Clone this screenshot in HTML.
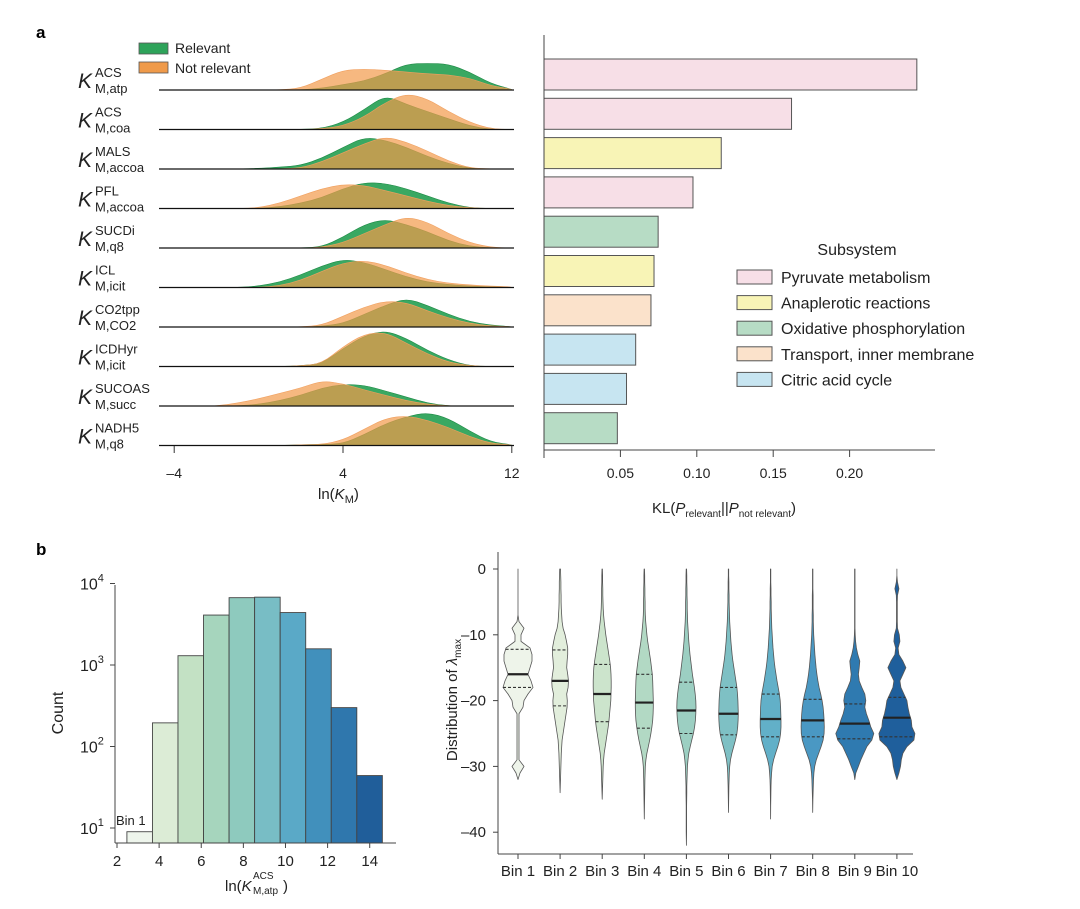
<!DOCTYPE html>
<html><head><meta charset="utf-8"><style>
html,body{margin:0;padding:0;background:#fff;}
svg{display:block;font-family:"Liberation Sans",sans-serif;}
</style></head><body>
<svg id="fig" width="1080" height="909" viewBox="0 0 1080 909" xmlns="http://www.w3.org/2000/svg">
<text x="36" y="38" font-size="17" font-weight="bold">a</text>
<text x="36" y="555" font-size="17" font-weight="bold">b</text>
<g id="ridge"></g>
<g id="bars"></g>
<g id="hist"></g>
<g id="viol"></g>
</svg>
<script>
// ---------- Ridge data (density heights on grid v=-4..12) ----------
const ridgeGrid = [-4,-3,-2,-1,0,1,2,3,4,5,6,7,8,9,10,11,12];
const ridgeSup = ["ACS","ACS","MALS","PFL","SUCDi","ICL","CO2tpp","ICDHyr","SUCOAS","NADH5"];
const ridgeSub = ["M,atp","M,coa","M,accoa","M,accoa","M,q8","M,icit","M,CO2","M,icit","M,succ","M,q8"];
const relevant = [
 [0,0,0,0,0,0,0,0.05,0.15,0.25,0.45,0.72,0.74,0.72,0.5,0.18,0.02],
 [0,0,0,0,0,0,0,0.03,0.2,0.55,0.95,0.7,0.5,0.3,0.1,0,0],
 [0,0,0,0,0.02,0.05,0.1,0.3,0.6,0.88,0.8,0.6,0.35,0.15,0.02,0,0],
 [0,0,0,0,0,0.05,0.15,0.3,0.55,0.72,0.7,0.55,0.35,0.15,0.02,0,0],
 [0,0,0,0,0,0,0,0.03,0.3,0.65,0.8,0.65,0.45,0.2,0.05,0,0],
 [0,0,0,0,0.04,0.15,0.35,0.6,0.78,0.7,0.5,0.3,0.15,0.08,0.04,0.02,0.01],
 [0,0,0,0,0,0,0,0.02,0.1,0.35,0.6,0.8,0.6,0.35,0.15,0.05,0.01],
 [0,0,0,0,0,0,0.02,0.08,0.5,0.85,1.0,0.78,0.45,0.18,0.02,0,0],
 [0,0,0,0,0.05,0.15,0.3,0.5,0.6,0.58,0.42,0.25,0.08,0,0,0,0],
 [0,0,0,0,0,0,0.02,0.03,0.05,0.3,0.6,0.8,0.92,0.75,0.4,0.1,0.02]
];
const notRelevant = [
 [0,0,0,0,0,0,0.05,0.3,0.55,0.58,0.55,0.5,0.45,0.42,0.33,0.12,0.02],
 [0,0,0,0,0,0,0,0.02,0.1,0.35,0.75,1.0,0.85,0.5,0.2,0.02,0],
 [0,0,0,0,0,0,0.03,0.2,0.45,0.7,0.9,0.75,0.5,0.22,0.03,0,0],
 [0,0,0,0,0.02,0.15,0.35,0.55,0.67,0.64,0.5,0.35,0.2,0.08,0.02,0,0],
 [0,0,0,0,0,0,0,0.02,0.15,0.4,0.65,0.87,0.72,0.4,0.15,0.02,0],
 [0,0,0,0,0,0.05,0.2,0.45,0.68,0.75,0.62,0.4,0.22,0.12,0.07,0.04,0.02],
 [0,0,0,0,0,0,0,0.05,0.3,0.55,0.72,0.68,0.45,0.25,0.1,0.03,0.01],
 [0,0,0,0,0,0,0.02,0.08,0.55,0.9,0.95,0.65,0.35,0.12,0.02,0,0],
 [0,0,0,0.08,0.2,0.35,0.5,0.7,0.62,0.45,0.3,0.15,0.05,0,0,0,0],
 [0,0,0,0,0,0,0.02,0.03,0.15,0.45,0.75,0.83,0.7,0.5,0.25,0.06,0.02]
];
const ridgeTicks = [-4,4,12];

// ---------- KL bar data ----------
const klValues = [0.244,0.162,0.116,0.0975,0.0747,0.072,0.070,0.060,0.054,0.048];
const klSubsystem = [0,0,1,0,2,1,3,4,4,2];
const subsystemNames = ["Pyruvate metabolism","Anaplerotic reactions","Oxidative phosphorylation","Transport, inner membrane","Citric acid cycle"];
const klTicks = [0.05,0.10,0.15,0.20];

// ---------- Histogram data ----------
const histEdgeStart = 2.47, histBinWidth = 1.213;
const histCounts = [9,195,1300,4100,6700,6800,4400,1580,300,44];
const histXTicks = [2,4,6,8,10,12,14];
const histYTicks = [1,2,3,4];

// ---------- Violin data (density on grid value=0..-42, step -1) ----------
const binLabels = ["Bin 1","Bin 2","Bin 3","Bin 4","Bin 5","Bin 6","Bin 7","Bin 8","Bin 9","Bin 10"];
const violinDensity = [
 [0,0,0,0,0,0,0,0,0.05,0.3,0.15,0.15,0.6,0.7,0.7,0.6,0.5,0.65,0.75,0.5,0.3,0.25,0.05,0.05,0.05,0.05,0.05,0.05,0.05,0.05,0.3,0.1,0],
 [0.02,0.03,0.04,0.04,0.05,0.05,0.06,0.08,0.1,0.15,0.25,0.32,0.38,0.38,0.35,0.33,0.38,0.42,0.4,0.33,0.36,0.35,0.3,0.25,0.2,0.15,0.1,0.08,0.06,0.05,0.04,0.03,0.02,0.01,0],
 [0.01,0.02,0.02,0.03,0.03,0.04,0.05,0.07,0.1,0.14,0.18,0.23,0.28,0.33,0.38,0.42,0.44,0.45,0.45,0.44,0.43,0.4,0.37,0.34,0.3,0.25,0.2,0.15,0.1,0.07,0.05,0.04,0.03,0.02,0.01,0],
 [0.01,0.02,0.02,0.03,0.03,0.04,0.04,0.05,0.07,0.1,0.13,0.17,0.22,0.27,0.32,0.36,0.4,0.42,0.43,0.44,0.45,0.45,0.44,0.42,0.38,0.33,0.27,0.2,0.13,0.08,0.05,0.04,0.03,0.025,0.02,0.015,0.01,0.005,0],
 [0.01,0.02,0.02,0.03,0.03,0.04,0.04,0.05,0.06,0.08,0.1,0.12,0.15,0.18,0.22,0.26,0.3,0.35,0.4,0.44,0.47,0.48,0.47,0.45,0.41,0.35,0.27,0.19,0.12,0.08,0.05,0.04,0.03,0.02,0.02,0.015,0.01,0.01,0.01,0.01,0.01,0.005,0],
 [0.01,0.01,0.02,0.02,0.03,0.03,0.04,0.05,0.06,0.08,0.1,0.12,0.15,0.18,0.22,0.27,0.32,0.37,0.42,0.45,0.47,0.48,0.49,0.48,0.46,0.42,0.35,0.26,0.17,0.1,0.06,0.04,0.03,0.02,0.015,0.01,0.005,0],
 [0.01,0.01,0.01,0.02,0.02,0.03,0.03,0.04,0.05,0.06,0.08,0.1,0.12,0.15,0.18,0.22,0.27,0.32,0.38,0.44,0.48,0.5,0.51,0.52,0.52,0.5,0.45,0.36,0.25,0.15,0.08,0.05,0.03,0.02,0.015,0.01,0.005,0.003,0],
 [0.01,0.01,0.01,0.01,0.02,0.02,0.02,0.03,0.03,0.04,0.05,0.07,0.09,0.11,0.14,0.17,0.21,0.26,0.32,0.4,0.47,0.52,0.55,0.57,0.58,0.57,0.52,0.42,0.3,0.18,0.1,0.06,0.04,0.03,0.02,0.01,0.005,0],
 [0.01,0.01,0.01,0.01,0.01,0.01,0.01,0.01,0.01,0.01,0.02,0.04,0.08,0.15,0.25,0.22,0.18,0.22,0.35,0.5,0.55,0.5,0.58,0.7,0.8,0.95,0.85,0.6,0.45,0.3,0.18,0.05,0],
 [0,0,0.03,0.1,0.03,0.02,0.02,0.02,0.02,0.03,0.12,0.15,0.06,0.1,0.3,0.45,0.3,0.15,0.2,0.35,0.5,0.55,0.62,0.72,0.75,0.9,0.85,0.5,0.3,0.22,0.18,0.1,0]
];
const violinMedian = [-16,-17,-19,-20.3,-21.5,-22,-22.8,-23,-23.5,-22.6];
const violinQ1 = [-18,-20.8,-23.2,-24.2,-25,-25.2,-25.5,-25.5,-25.8,-25.5];
const violinQ3 = [-12.2,-12.3,-14.5,-16,-17.2,-18,-19,-19.8,-20.5,-19.5];
const violinYTicks = [0,-10,-20,-30,-40];

// ---------- helpers ----------
const NS="http://www.w3.org/2000/svg";
function mk(parent,tag,attrs,txt){const e=document.createElementNS(NS,tag);for(const k in attrs)e.setAttribute(k,attrs[k]);if(txt!==undefined)e.textContent=txt;parent.appendChild(e);return e;}
function smoothPath(pts){let d="M"+pts[0][0]+","+pts[0][1];for(let i=1;i<pts.length-1;i++){const mx=(pts[i][0]+pts[i+1][0])/2,my=(pts[i][1]+pts[i+1][1])/2;d+=" Q"+pts[i][0]+","+pts[i][1]+" "+mx+","+my;}const l=pts[pts.length-1];d+=" L"+l[0]+","+l[1];return d;}

// ---------- Ridge plot ----------
(function(){
const g=document.getElementById('ridge');
const xK=v=>343+(v-4)*21.1;
const base=r=>90+r*39.5;
const H=36;
let s=mk(g,'rect',{x:139,y:43,width:29,height:11,fill:'#2ea35a',stroke:'#555','stroke-width':0.8});

s=mk(g,'text',{x:175,y:53,'font-size':14,fill:'#222'},'Relevant');

s=mk(g,'rect',{x:139,y:62,width:29,height:11,fill:'#ef9a4a',stroke:'#555','stroke-width':0.8});

s=mk(g,'text',{x:175,y:73,'font-size':14,fill:'#222'},'Not relevant');

for(let r=0;r<relevant.length;r++){
  const b=base(r);
  const mkPts=arr=>{const p=[[xK(ridgeGrid[0]),b]];arr.forEach((h,i)=>p.push([xK(ridgeGrid[i]),b-h*H]));p.push([xK(ridgeGrid[ridgeGrid.length-1]),b]);return p;};
  let p=mk(g,'path',{d:smoothPath(mkPts(relevant[r]))+" Z",fill:'#2ea35a','fill-opacity':0.95,stroke:'#1d8a45','stroke-width':0.6});
  
  p=mk(g,'path',{d:smoothPath(mkPts(notRelevant[r]))+" Z",fill:'#f29a4a','fill-opacity':0.7,stroke:'#f0a060','stroke-width':0.6});
  
  p=mk(g,'line',{x1:159,y1:b,x2:514,y2:b,stroke:'#111','stroke-width':1.3});
  
  const t=mk(g,'text',{x:78,y:b-2,'font-size':21,fill:'#222'});
  
  mk(t,'tspan',{'font-style':'italic'},'K');
  mk(g,'text',{x:95,y:b-13,'font-size':13,fill:'#222'},ridgeSup[r]);
  mk(g,'text',{x:95,y:b+3,'font-size':13,fill:'#222'},ridgeSub[r]);
}
ridgeTicks.forEach(v=>{
  const tk=mk(g,'line',{x1:xK(v),y1:446,x2:xK(v),y2:453,stroke:'#333','stroke-width':1});
  
  const tl=mk(g,'text',{x:xK(v),y:478,'font-size':14,'text-anchor':'middle',fill:'#222'},v<0?'\u2013'+(-v):String(v));
  
});
const xl=mk(g,'text',{x:318,y:499,'font-size':15,fill:'#222'});

mk(xl,'tspan',{},'ln(');mk(xl,'tspan',{'font-style':'italic'},'K');mk(xl,'tspan',{'font-size':11,dy:4},'M');mk(xl,'tspan',{dy:-4},')');
})();

// ---------- KL bars ----------
(function(){
const g=document.getElementById('bars');
const colors=['#f7dfe7','#f8f4b6','#b7dcc5','#fbe2cb','#c7e5f1'];
const xS=v=>544+v*1528;
const top=r=>59+r*39.3;
klValues.forEach((v,r)=>{
  const b=mk(g,'rect',{x:544,y:top(r),width:xS(v)-544,height:31,fill:colors[klSubsystem[r]],stroke:'#555','stroke-width':1});
  
});
let a=mk(g,'line',{x1:544,y1:35,x2:544,y2:450,stroke:'#444','stroke-width':1});

a=mk(g,'line',{x1:544,y1:450,x2:935,y2:450,stroke:'#444','stroke-width':1});

mk(g,'line',{x1:544,y1:450,x2:544,y2:458,stroke:'#444'});
klTicks.forEach(v=>{
  const tk=mk(g,'line',{x1:xS(v),y1:450,x2:xS(v),y2:457,stroke:'#444'});
  
  const tl=mk(g,'text',{x:xS(v),y:478,'font-size':14,'text-anchor':'middle',fill:'#222'},v.toFixed(2));
  
});
const xl=mk(g,'text',{x:652,y:513,'font-size':15,fill:'#222'});

mk(xl,'tspan',{},'KL(');mk(xl,'tspan',{'font-style':'italic'},'P');mk(xl,'tspan',{'font-size':10,dy:4},'relevant');mk(xl,'tspan',{dy:-4},'||');mk(xl,'tspan',{'font-style':'italic'},'P');mk(xl,'tspan',{'font-size':10,dy:4},'not relevant');mk(xl,'tspan',{dy:-4},')');
const lt=mk(g,'text',{x:857,y:255,'font-size':16,'text-anchor':'middle',fill:'#222'},'Subsystem');

subsystemNames.forEach((n,i)=>{
  const y=277+i*25.6;
  const sw=mk(g,'rect',{x:737,y:y-7,width:35,height:14,fill:colors[i],stroke:'#555','stroke-width':1});
  
  const tx=mk(g,'text',{x:781,y:y+6,'font-size':16,fill:'#222'},n);
  
});
})();

// ---------- Histogram ----------
(function(){
const g=document.getElementById('hist');
const colors=['#eef5ec','#dcecd6','#c3e1c4','#a6d5bd','#8ecabe','#78bdc5','#5aa9c7','#4190bc','#2f77ad','#205e9a'];
const xS=v=>117+(v-2)*21.06;
const yS=c=>828-(Math.log10(c)-1)*81.5;
const y0=843;
histCounts.forEach((c,i)=>{
  const x0=xS(histEdgeStart+i*histBinWidth),x1=xS(histEdgeStart+(i+1)*histBinWidth);
  const b=mk(g,'rect',{x:x0,y:yS(c),width:x1-x0,height:y0-yS(c),fill:colors[i],stroke:'#444','stroke-width':0.9});
  
});
let a=mk(g,'line',{x1:115,y1:585,x2:115,y2:843,stroke:'#444'});

a=mk(g,'line',{x1:115,y1:843,x2:396,y2:843,stroke:'#444'});

histYTicks.forEach(e=>{
  const y=828-(e-1)*81.5;
  mk(g,'line',{x1:110,y1:y,x2:115,y2:y,stroke:'#444'});
  const t=mk(g,'text',{x:80,y:y+6,'font-size':16,fill:'#222'});
  
  mk(t,'tspan',{},'10');mk(t,'tspan',{'font-size':11,dy:-8},String(e));
});
histXTicks.forEach(v=>{
  mk(g,'line',{x1:xS(v),y1:843,x2:xS(v),y2:848,stroke:'#444'});
  const t=mk(g,'text',{x:xS(v),y:866,'font-size':15,'text-anchor':'middle',fill:'#222'},String(v));
  
});
let t=mk(g,'text',{x:116,y:825,'font-size':13,fill:'#222'},'Bin 1');

t=mk(g,'text',{x:0,y:0,'font-size':16,'text-anchor':'middle',fill:'#222',transform:'translate(63,713) rotate(-90)'},'Count');

t=mk(g,'text',{x:225,y:891,'font-size':15,fill:'#222'});

mk(t,'tspan',{},'ln(');mk(t,'tspan',{'font-style':'italic'},'K');
mk(g,'text',{x:253,y:879,'font-size':10,fill:'#222'},'ACS');
mk(g,'text',{x:253,y:894,'font-size':10,fill:'#222'},'M,atp');
mk(g,'text',{x:283,y:891,'font-size':15,fill:'#222'},')');
})();

// ---------- Violins ----------
(function(){
const g=document.getElementById('viol');
const colors=['#eef4ea','#e2eedc','#cce4cc','#b2d9c4','#9ccfc2','#7ec0c4','#62b0c8','#4a98c3','#2f7ab0','#1f5f9c'];
const yS=v=>569-v*6.58;
const xB=i=>518+i*42.1;
const W=20;
violinDensity.forEach((d,i)=>{
  const cx=xB(i);
  const right=[],left=[];
  d.forEach((h,k)=>{right.push([cx+h*W,yS(-k)]);});
  for(let k=d.length-1;k>=0;k--)left.push([cx-d[k]*W,yS(-k)]);
  const pts=right.concat(left);
  let dd="M"+pts.map(p=>p[0].toFixed(2)+","+p[1].toFixed(2)).join(" L")+" Z";
  const v=mk(g,'path',{d:dd,fill:colors[i],stroke:'#555','stroke-width':0.8,'stroke-linejoin':'round'});
  
  const hw=val=>{const k=-val,k0=Math.floor(k),f=k-k0;const a=d[k0]||0,b=d[k0+1]||0;return (a+(b-a)*f)*W;};
  const m=mk(g,'line',{x1:cx-hw(violinMedian[i]),y1:yS(violinMedian[i]),x2:cx+hw(violinMedian[i]),y2:yS(violinMedian[i]),stroke:'#222','stroke-width':2.2});
  
  [violinQ1[i],violinQ3[i]].forEach(q=>{
    const l=mk(g,'line',{x1:cx-hw(q),y1:yS(q),x2:cx+hw(q),y2:yS(q),stroke:'#333','stroke-width':1.1,'stroke-dasharray':'3,2'});
    
  });
  mk(g,'line',{x1:cx,y1:854,x2:cx,y2:859,stroke:'#444'});
  const t=mk(g,'text',{x:cx,y:876,'font-size':15,'text-anchor':'middle',fill:'#222'},binLabels[i]);
  
});
let a=mk(g,'line',{x1:498,y1:552,x2:498,y2:854,stroke:'#444'});

a=mk(g,'line',{x1:498,y1:854,x2:913,y2:854,stroke:'#444'});

violinYTicks.forEach(v=>{
  mk(g,'line',{x1:493,y1:yS(v),x2:498,y2:yS(v),stroke:'#444'});
  const t=mk(g,'text',{x:486,y:yS(v)+5,'font-size':15,'text-anchor':'end',fill:'#222'},v<0?'\u2013'+(-v):String(v));
  
});
const t=mk(g,'text',{x:0,y:0,'font-size':15,'text-anchor':'middle',fill:'#222',transform:'translate(457,700) rotate(-90)'});

mk(t,'tspan',{},'Distribution of ');mk(t,'tspan',{'font-style':'italic'},'\u03bb');mk(t,'tspan',{'font-size':10,dy:4},'max');
})();
</script>
</body></html>
